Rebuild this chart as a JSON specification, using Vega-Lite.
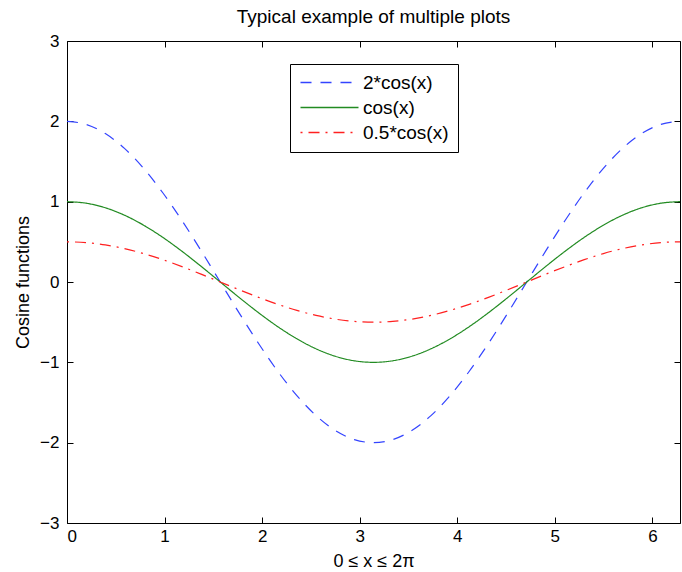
{
  "$schema": "https://vega.github.io/schema/vega-lite/v6.json",
  "width": 613,
  "height": 482,
  "autosize": {"type": "none"},
  "padding": {"left": 67, "top": 41, "right": 2, "bottom": 49},
  "background": "white",
  "title": {"text": "Typical example of multiple plots", "font": "Liberation Sans, Arial", "fontSize": 19, "fontWeight": "normal", "color": "black", "offset": 5},
  "config": {
    "view": {"stroke": "black", "strokeWidth": 1},
    "font": "Liberation Sans, Arial",
    "axis": {"grid": false, "domain": false, "tickColor": "black", "tickSize": -6, "labelColor": "black", "labelFontSize": 17, "titleFontSize": 18, "titleFontWeight": "normal", "titleColor": "black", "labelFont": "Liberation Sans, Arial", "titleFont": "Liberation Sans, Arial"}
  },
  "data": {"values": [
    {"x": 0.0, "a": 2.0, "b": 1.0, "c": 0.5},
    {"x": 0.1963, "a": 1.9616, "b": 0.98079, "c": 0.4904},
    {"x": 0.3927, "a": 1.8478, "b": 0.92388, "c": 0.4619},
    {"x": 0.589, "a": 1.6629, "b": 0.83147, "c": 0.4157},
    {"x": 0.7854, "a": 1.4142, "b": 0.70711, "c": 0.3536},
    {"x": 0.9817, "a": 1.1111, "b": 0.55557, "c": 0.2778},
    {"x": 1.1781, "a": 0.7654, "b": 0.38268, "c": 0.1913},
    {"x": 1.3744, "a": 0.3902, "b": 0.19509, "c": 0.0975},
    {"x": 1.5708, "a": 0.0, "b": 0.0, "c": 0.0},
    {"x": 1.7671, "a": -0.3902, "b": -0.19509, "c": -0.0975},
    {"x": 1.9635, "a": -0.7654, "b": -0.38268, "c": -0.1913},
    {"x": 2.1598, "a": -1.1111, "b": -0.55557, "c": -0.2778},
    {"x": 2.3562, "a": -1.4142, "b": -0.70711, "c": -0.3536},
    {"x": 2.5525, "a": -1.6629, "b": -0.83147, "c": -0.4157},
    {"x": 2.7489, "a": -1.8478, "b": -0.92388, "c": -0.4619},
    {"x": 2.9452, "a": -1.9616, "b": -0.98079, "c": -0.4904},
    {"x": 3.1416, "a": -2.0, "b": -1.0, "c": -0.5},
    {"x": 3.3379, "a": -1.9616, "b": -0.98079, "c": -0.4904},
    {"x": 3.5343, "a": -1.8478, "b": -0.92388, "c": -0.4619},
    {"x": 3.7306, "a": -1.6629, "b": -0.83147, "c": -0.4157},
    {"x": 3.927, "a": -1.4142, "b": -0.70711, "c": -0.3536},
    {"x": 4.1233, "a": -1.1111, "b": -0.55557, "c": -0.2778},
    {"x": 4.3197, "a": -0.7654, "b": -0.38268, "c": -0.1913},
    {"x": 4.516, "a": -0.3902, "b": -0.19509, "c": -0.0975},
    {"x": 4.7124, "a": 0.0, "b": 0.0, "c": 0.0},
    {"x": 4.9087, "a": 0.3902, "b": 0.19509, "c": 0.0975},
    {"x": 5.1051, "a": 0.7654, "b": 0.38268, "c": 0.1913},
    {"x": 5.3014, "a": 1.1111, "b": 0.55557, "c": 0.2778},
    {"x": 5.4978, "a": 1.4142, "b": 0.70711, "c": 0.3536},
    {"x": 5.6941, "a": 1.6629, "b": 0.83147, "c": 0.4157},
    {"x": 5.8905, "a": 1.8478, "b": 0.92388, "c": 0.4619},
    {"x": 6.0868, "a": 1.9616, "b": 0.98079, "c": 0.4904},
    {"x": 6.2832, "a": 2.0, "b": 1.0, "c": 0.5}
  ]},
  "transform": [{"fold": ["a", "b", "c"], "as": ["key", "y"]}],
  "layer": [
    {
      "mark": {"type": "line", "strokeWidth": 1.2, "clip": true, "interpolate": "monotone"},
      "encoding": {
        "x": {"field": "x", "type": "quantitative", "scale": {"domain": [0, 6.2832], "nice": false, "zero": false}, "axis": {"orient": "bottom", "values": [0,1,2,3,4,5,6], "title": "0 ≤ x ≤ 2π", "labelPadding": 11, "titlePadding": 8}},
        "y": {"field": "y", "type": "quantitative", "scale": {"domain": [-3, 3], "nice": false}, "axis": {"orient": "left", "values": [-3,-2,-1,0,1,2,3], "title": "Cosine functions", "labelPadding": 14, "titlePadding": 7}},
        "color": {"field": "key", "type": "nominal", "scale": {"domain": ["a", "b", "c"], "range": ["#3344ff", "#228b22", "#ff2020"]},
          "legend": {"orient": "none", "legendX": 223, "legendY": 23, "title": null, "symbolType": "M-4,0H4", "symbolSize": 210.25, "symbolStrokeWidth": 1.5, "symbolOffset": 21, "labelOffset": 24, "labelExpr": "datum.value == 'a' ? '2*cos(x)' : datum.value == 'b' ? 'cos(x)' : '0.5*cos(x)'", "labelFontSize": 19, "labelColor": "black", "strokeColor": "black", "fillColor": "white", "padding": 9, "rowPadding": 5}},
        "strokeDash": {"field": "key", "type": "nominal", "scale": {"domain": ["a", "b", "c"], "range": [[11, 9], [1, 0], [2, 6, 11, 6]]}}
      }
    },
    {
      "mark": {"type": "point", "opacity": 0},
      "encoding": {
        "x": {"field": "x", "type": "quantitative", "axis": {"orient": "top", "values": [0,1,2,3,4,5,6], "labels": false, "title": null}},
        "y": {"field": "y", "type": "quantitative", "axis": {"orient": "right", "values": [-3,-2,-1,0,1,2,3], "labels": false, "title": null}}
      }
    }
  ],
  "resolve": {"axis": {"x": "independent", "y": "independent"}}
}
